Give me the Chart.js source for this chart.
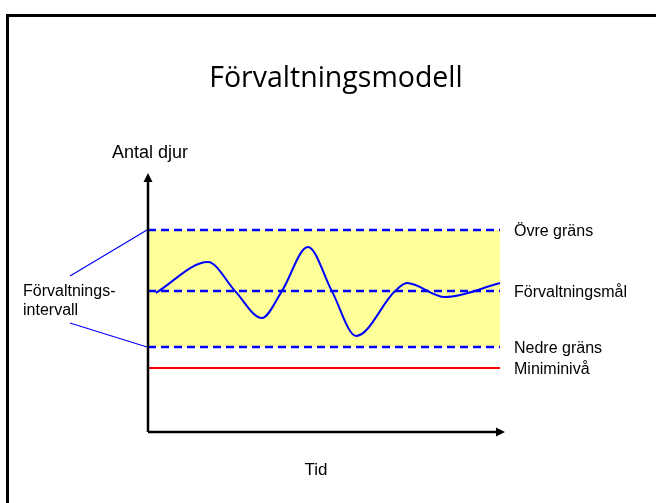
<!DOCTYPE html>
<html>
<head>
<meta charset="utf-8">
<script src="https://cdn.jsdelivr.net/npm/chart.js@4.4.1/dist/chart.umd.min.js"></script>
<style>
  body { margin: 0; background: #fff; }
</style>
</head>
<body>
<canvas id="chart" width="656" height="503"></canvas>
<script>
// population curve (time on x, number of animals on y)
const timeX = [2.2, 16.8, 24.4, 31.9, 37.5, 44.8, 51.5, 58.3, 69.2, 72.5, 83.2, 98.6];
const antal = [53.7, 65.6, 54.4, 44.0, 54.4, 71.4, 54.4, 37.1, 54.4, 57.5, 52.1, 57.5];

// reference levels
const levelNames = ['Övre gräns', 'Förvaltningsmål', 'Nedre gräns', 'Miniminivå'];
const levelValues = [78, 54.4, 32.8, 24.7];
const levelSpan = [0, 98.6];

const BLUE = '#0000ff';

function levelLine(v) {
  return levelSpan.map(x => ({ x: x, y: v }));
}

const decorations = {
  id: 'decorations',
  afterDatasetsDraw(chart) {
    const ctx = chart.ctx;
    const area = chart.chartArea;
    const yScale = chart.scales.y;
    ctx.save();

    // slide frame (only top and left edges are visible)
    ctx.fillStyle = '#000';
    ctx.fillRect(6, 14, 650, 3);
    ctx.fillRect(6, 14, 3, 489);

    // title
    ctx.fillStyle = '#000';
    ctx.textAlign = 'center';
    ctx.textBaseline = 'alphabetic';
    ctx.font = '28.5px "Open Sans"';
    ctx.fillText('Förvaltningsmodell', 336, 87);

    // axes with arrow heads
    ctx.strokeStyle = '#000';
    ctx.lineWidth = 2.5;
    ctx.beginPath();
    ctx.moveTo(area.left, area.bottom);
    ctx.lineTo(area.left, area.top + 7);
    ctx.moveTo(area.left, area.bottom);
    ctx.lineTo(area.right - 7, area.bottom);
    ctx.stroke();
    ctx.beginPath();
    ctx.moveTo(area.left, area.top);
    ctx.lineTo(area.left - 4.5, area.top + 9);
    ctx.lineTo(area.left + 4.5, area.top + 9);
    ctx.closePath();
    ctx.moveTo(area.right, area.bottom);
    ctx.lineTo(area.right - 9, area.bottom - 4.5);
    ctx.lineTo(area.right - 9, area.bottom + 4.5);
    ctx.closePath();
    ctx.fill();

    // axis titles
    ctx.font = '18px "Liberation Sans"';
    ctx.fillText('Antal djur', area.left + 2, 158);
    ctx.font = '17px "Liberation Sans"';
    ctx.fillText('Tid', 316, 475);

    // level labels on the right
    ctx.textAlign = 'left';
    ctx.font = '16px "Liberation Sans"';
    levelNames.forEach((name, i) => {
      ctx.fillText(name, 514, yScale.getPixelForValue(levelValues[i]) + 6);
    });

    // management interval label with leader lines
    ctx.fillText('Förvaltnings-', 23, 296);
    ctx.fillText('intervall', 23, 315);
    ctx.strokeStyle = BLUE;
    ctx.lineWidth = 1.2;
    ctx.beginPath();
    ctx.moveTo(70, 276);
    ctx.lineTo(area.left - 1, yScale.getPixelForValue(levelValues[0]));
    ctx.moveTo(70, 323);
    ctx.lineTo(area.left - 1, yScale.getPixelForValue(levelValues[2]));
    ctx.stroke();

    ctx.restore();
  }
};

new Chart(document.getElementById('chart'), {
  type: 'line',
  data: {
    datasets: [
      {
        label: levelNames[0],
        data: levelLine(levelValues[0]),
        borderColor: BLUE,
        borderWidth: 2.5,
        borderDash: [8, 5],
        backgroundColor: '#ffff99',
        fill: { target: 2 }
      },
      {
        label: levelNames[1],
        data: levelLine(levelValues[1]),
        borderColor: BLUE,
        borderWidth: 2.5,
        borderDash: [8, 5],
        fill: false
      },
      {
        label: levelNames[2],
        data: levelLine(levelValues[2]),
        borderColor: BLUE,
        borderWidth: 2.5,
        borderDash: [8, 5],
        fill: false
      },
      {
        label: levelNames[3],
        data: levelLine(levelValues[3]),
        borderColor: '#ff0000',
        borderWidth: 2,
        fill: false
      },
      {
        label: 'Antal djur',
        data: timeX.map((x, i) => ({ x: x, y: antal[i] })),
        borderColor: BLUE,
        borderWidth: 2,
        cubicInterpolationMode: 'monotone',
        fill: false
      }
    ]
  },
  options: {
    responsive: false,
    animation: false,
    layout: {
      padding: { left: 148, right: 151, top: 173, bottom: 71 }
    },
    elements: {
      point: { radius: 0 }
    },
    scales: {
      x: { type: 'linear', min: 0, max: 100, display: false },
      y: { min: 0, max: 100, display: false }
    },
    plugins: {
      legend: { display: false },
      tooltip: { enabled: false },
      filler: { drawTime: 'beforeDatasetsDraw' }
    }
  },
  plugins: [decorations]
});
</script>
</body>
</html>
